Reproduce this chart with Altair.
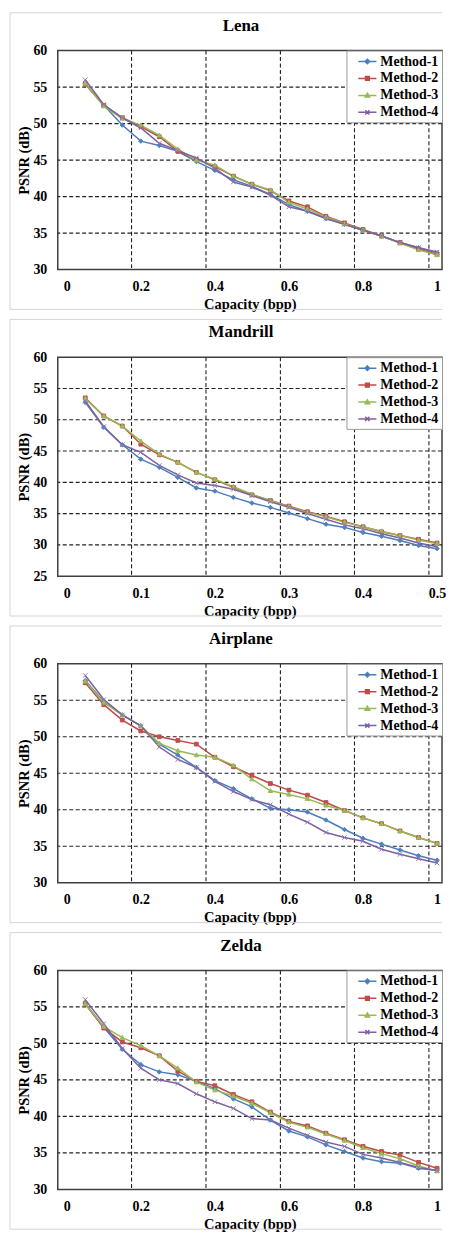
import altair as alt
import pandas as pd

SERIF = "Liberation Serif"
FRAME = "#d4d4d4"

methods = ["Method-1", "Method-2", "Method-3", "Method-4"]
line_colors = ["#4A7EBB", "#BE4B48", "#98B954", "#7D60A0"]
marker_colors = ["#4F81BD", "#C0504D", "#9BBB59", "#8C72B4"]
marker_paths = [
    "M0,-1L1,0L0,1L-1,0Z",
    "M-0.85,-0.85H0.85V0.85H-0.85Z",
    "M0,-1L1,0.75L-1,0.75Z",
    "M-1,-1L1,1M-1,1L1,-1",
]
legend_paths = [
    "M-1.3,0H1.3M0,-0.32L0.32,0L0,0.32L-0.32,0Z",
    "M-1.3,0H1.3M-0.27,-0.27H0.27V0.27H-0.27Z",
    "M-1.3,0H1.3M0,-0.32L0.32,0.24L-0.32,0.24Z",
    "M-1.3,0H1.3M-0.3,-0.3L0.3,0.3M-0.3,0.3L0.3,-0.3",
]

# capacity values
x_full = [0.05, 0.1, 0.15, 0.2, 0.25, 0.3, 0.35, 0.4, 0.45, 0.5,
          0.55, 0.6, 0.65, 0.7, 0.75, 0.8, 0.85, 0.9, 0.95, 1.0]
x_half = [0.025, 0.05, 0.075, 0.1, 0.125, 0.15, 0.175, 0.2, 0.225, 0.25,
          0.275, 0.3, 0.325, 0.35, 0.375, 0.4, 0.425, 0.45, 0.475, 0.5]

# Lena
lena_m1 = [55.5, 52.5, 49.8, 47.6, 47.0, 46.2, 44.8, 43.6, 42.3, 41.4,
           40.3, 38.9, 38.0, 37.0, 36.2, 35.4, 34.6, 33.7, 33.0, 32.3]
lena_m2 = [55.4, 52.5, 50.8, 49.6, 48.2, 46.2, 45.1, 44.1, 42.8, 41.7,
           40.8, 39.4, 38.6, 37.3, 36.4, 35.5, 34.6, 33.7, 32.8, 32.1]
lena_m3 = [55.5, 52.4, 50.7, 49.8, 48.4, 46.5, 45.0, 44.3, 42.8, 41.7,
           40.9, 39.2, 38.3, 37.2, 36.3, 35.4, 34.6, 33.6, 32.7, 32.0]
lena_m4 = [56.0, 52.6, 50.8, 49.4, 47.3, 46.3, 45.3, 43.9, 42.0, 41.3,
           40.2, 38.6, 38.0, 37.0, 36.2, 35.4, 34.6, 33.7, 33.0, 32.4]

# Mandrill
mand_m1 = [52.8, 48.8, 46.0, 43.7, 42.4, 40.8, 39.1, 38.6, 37.6, 36.7,
           36.0, 35.1, 34.2, 33.3, 32.8, 32.0, 31.4, 30.7, 29.9, 29.4]
mand_m2 = [53.5, 50.6, 49.0, 46.1, 44.4, 43.2, 41.6, 40.4, 39.2, 38.0,
           37.1, 36.2, 35.3, 34.6, 33.7, 32.9, 32.1, 31.5, 30.9, 30.3]
mand_m3 = [53.4, 50.6, 49.0, 46.6, 44.5, 43.2, 41.6, 40.5, 39.3, 38.1,
           37.1, 36.1, 35.2, 34.5, 33.6, 32.9, 32.2, 31.5, 30.8, 30.2]
mand_m4 = [53.0, 48.9, 46.0, 44.8, 42.7, 41.2, 39.9, 39.5, 38.9, 37.9,
           36.9, 36.0, 35.0, 34.1, 33.2, 32.6, 31.8, 31.1, 30.3, 29.7]

# Airplane
air_m1 = [57.7, 54.8, 53.0, 51.5, 49.0, 47.5, 45.8, 44.0, 42.9, 41.5,
          40.2, 40.0, 39.7, 38.6, 37.3, 36.1, 35.3, 34.5, 33.7, 33.1]
air_m2 = [57.4, 54.4, 52.3, 50.8, 50.0, 49.5, 49.0, 47.2, 45.9, 44.7,
          43.6, 42.7, 42.0, 41.0, 39.9, 38.9, 38.1, 37.1, 36.2, 35.4]
air_m3 = [57.6, 54.7, 53.0, 51.5, 49.1, 48.1, 47.5, 47.2, 46.1, 44.2,
          42.6, 42.1, 41.5, 40.6, 39.9, 38.9, 38.1, 37.1, 36.2, 35.4]
air_m4 = [58.4, 55.1, 53.0, 51.5, 48.6, 46.9, 45.8, 43.9, 42.5, 41.4,
          40.7, 39.4, 38.3, 36.9, 36.2, 35.7, 34.6, 33.9, 33.3, 32.7]

# Zelda
zel_m1 = [55.5, 52.2, 49.2, 47.1, 46.1, 45.7, 44.8, 43.8, 42.4, 41.3,
          39.5, 38.0, 37.2, 36.1, 35.2, 34.3, 33.8, 33.6, 32.9, 32.6]
zel_m2 = [55.4, 52.1, 50.2, 49.4, 48.3, 46.2, 44.8, 44.2, 43.0, 42.0,
          40.6, 39.3, 38.7, 37.7, 36.8, 35.9, 35.2, 34.7, 33.7, 32.9]
zel_m3 = [55.4, 52.3, 50.8, 49.7, 48.3, 46.6, 44.7, 43.6, 42.8, 41.8,
          40.5, 39.2, 38.5, 37.6, 36.7, 35.7, 34.9, 34.2, 33.2, 32.5]
zel_m4 = [56.0, 52.7, 49.3, 46.6, 45.0, 44.5, 43.1, 42.0, 41.1, 39.7,
          39.5, 38.4, 37.4, 36.5, 35.9, 34.8, 34.3, 33.7, 33.0, 32.6]

x_ticks_full = [0, 0.2, 0.4, 0.6, 0.8, 1.0]
x_ticks_half = [0, 0.1, 0.2, 0.3, 0.4, 0.5]
x_grid_full = [0.175, 0.376, 0.577, 0.777, 0.978]
x_grid_half = [0.0875, 0.188, 0.2885, 0.3885, 0.489]
x_dom_full = [-0.0242, 1.0134]
x_dom_half = [-0.0121, 0.5067]
y_ticks_30 = [30, 35, 40, 45, 50, 55, 60]
y_ticks_25 = [25, 30, 35, 40, 45, 50, 55, 60]
y_grid_30 = [35, 40, 45, 50, 55]
y_grid_25 = [30, 35, 40, 45, 50, 55]

W, H = 386, 220
GAP = 88
NB = "\u00a0"
LABEL_EXPR = "datum.label + '" + NB * 6 + "'"


def panel(title, xs, series, x_dom, x_ticks, x_grid, y_dom, y_ticks, y_grid):
    rows = []
    for m, vals in zip(methods, series):
        for xv, yv in zip(xs, vals):
            rows.append({"Capacity": xv, "PSNR": yv, "Method": m})
    df = pd.DataFrame(rows)

    xs_scale = alt.Scale(domain=x_dom, nice=False, zero=False)
    ys_scale = alt.Scale(domain=y_dom, nice=False, zero=False)
    ax_x = alt.Axis(values=x_ticks, format="~g", title="Capacity (bpp)",
                    labelPadding=10, titlePadding=4)
    ax_y = alt.Axis(values=y_ticks, title="PSNR (dB)", labelPadding=11, titlePadding=1)
    x_enc = alt.X("Capacity:Q", scale=xs_scale, axis=ax_x)
    y_enc = alt.Y("PSNR:Q", scale=ys_scale, axis=ax_y)

    one = pd.DataFrame({"k": [0]})
    frame_top = alt.Chart(one).mark_rule(color=FRAME, strokeWidth=1).encode(
        x=alt.value(-48), x2=alt.value(W), y=alt.value(-38))
    frame_left = alt.Chart(one).mark_rule(color=FRAME, strokeWidth=1).encode(
        x=alt.value(-48), y=alt.value(-38), y2=alt.value(H + 40))
    frame_bot = alt.Chart(one).mark_rule(color=FRAME, strokeWidth=1).encode(
        x=alt.value(-48), x2=alt.value(W), y=alt.value(H + 40))
    ttl = alt.Chart(one).mark_text(
        text=title, font=SERIF, fontSize=17, fontWeight="bold", color="black",
        align="center", baseline="alphabetic").encode(
        x=alt.value(W / 2 - 9), y=alt.value(-20))

    gx = alt.Chart(pd.DataFrame({"g": x_grid})).mark_rule(
        color="#222222", strokeWidth=1.1, strokeDash=[4, 2.5]).encode(
        x=alt.X("g:Q", scale=xs_scale, axis=ax_x))
    gy = alt.Chart(pd.DataFrame({"g": y_grid})).mark_rule(
        color="#222222", strokeWidth=1.1, strokeDash=[4, 2.5]).encode(
        y=alt.Y("g:Q", scale=ys_scale, axis=ax_y))

    lines = alt.Chart(df).mark_line(strokeWidth=1.5).encode(
        x=x_enc, y=y_enc,
        color=alt.Color("Method:N", scale=alt.Scale(domain=methods, range=line_colors), legend=None),
    )
    pts = alt.Chart(df).mark_point(size=20, strokeWidth=1, opacity=1).encode(
        x=x_enc, y=y_enc,
        fill=alt.Fill("Method:N", scale=alt.Scale(domain=methods, range=marker_colors), legend=None),
        stroke=alt.Stroke("Method:N", scale=alt.Scale(domain=methods, range=marker_colors), legend=None),
        shape=alt.Shape("Method:N", scale=alt.Scale(domain=methods, range=marker_paths), legend=None),
    )
    lg = alt.Legend(title=None, labelExpr=LABEL_EXPR)
    leg = alt.Chart(df).transform_filter("false").mark_point(strokeWidth=1.5, opacity=1).encode(
        x=x_enc, y=y_enc,
        fill=alt.Fill("Method:N", scale=alt.Scale(domain=methods, range=marker_colors), legend=lg),
        stroke=alt.Stroke("Method:N", scale=alt.Scale(domain=methods, range=line_colors), legend=lg),
        shape=alt.Shape("Method:N", scale=alt.Scale(domain=methods, range=legend_paths), legend=lg),
    )
    return alt.layer(frame_top, frame_left, frame_bot, ttl, gx, gy, lines, pts, leg).resolve_scale(
        color="independent", fill="independent", stroke="independent", shape="independent"
    ).properties(width=W, height=H)


p1 = panel("Lena", x_full, [lena_m1, lena_m2, lena_m3, lena_m4], x_dom_full,
           x_ticks_full, x_grid_full, [30, 60], y_ticks_30, y_grid_30)
p2 = panel("Mandrill", x_half, [mand_m1, mand_m2, mand_m3, mand_m4], x_dom_half,
           x_ticks_half, x_grid_half, [25, 60], y_ticks_25, y_grid_25)
p3 = panel("Airplane", x_full, [air_m1, air_m2, air_m3, air_m4], x_dom_full,
           x_ticks_full, x_grid_full, [30, 60], y_ticks_30, y_grid_30)
p4 = panel("Zelda", x_full, [zel_m1, zel_m2, zel_m3, zel_m4], x_dom_full,
           x_ticks_full, x_grid_full, [30, 60], y_ticks_30, y_grid_30)

chart = alt.vconcat(p1, p2, p3, p4, spacing=GAP, bounds="flush").properties(
    padding=0
).configure(
    font=SERIF, background="white"
).configure_view(
    stroke="#404040", strokeWidth=1.5
).configure_axis(
    labelFont=SERIF, labelFontWeight="bold", labelFontSize=14, labelColor="black",
    titleFont=SERIF, titleFontWeight="bold", titleFontSize=14.5, titleColor="black",
    ticks=False, tickSize=0, domain=False, grid=False,
).configure_legend(
    orient="top-right", offset=0, padding=3, rowPadding=2,
    strokeColor="#9a9a9a", fillColor="white",
    labelFont=SERIF, labelFontSize=14, labelFontWeight="bold", labelColor="black",
    symbolSize=196, symbolStrokeWidth=1.5, labelOffset=5, symbolOffset=10,
)

chart.save("out.html", embed_options={"renderer": "svg", "actions": False})
